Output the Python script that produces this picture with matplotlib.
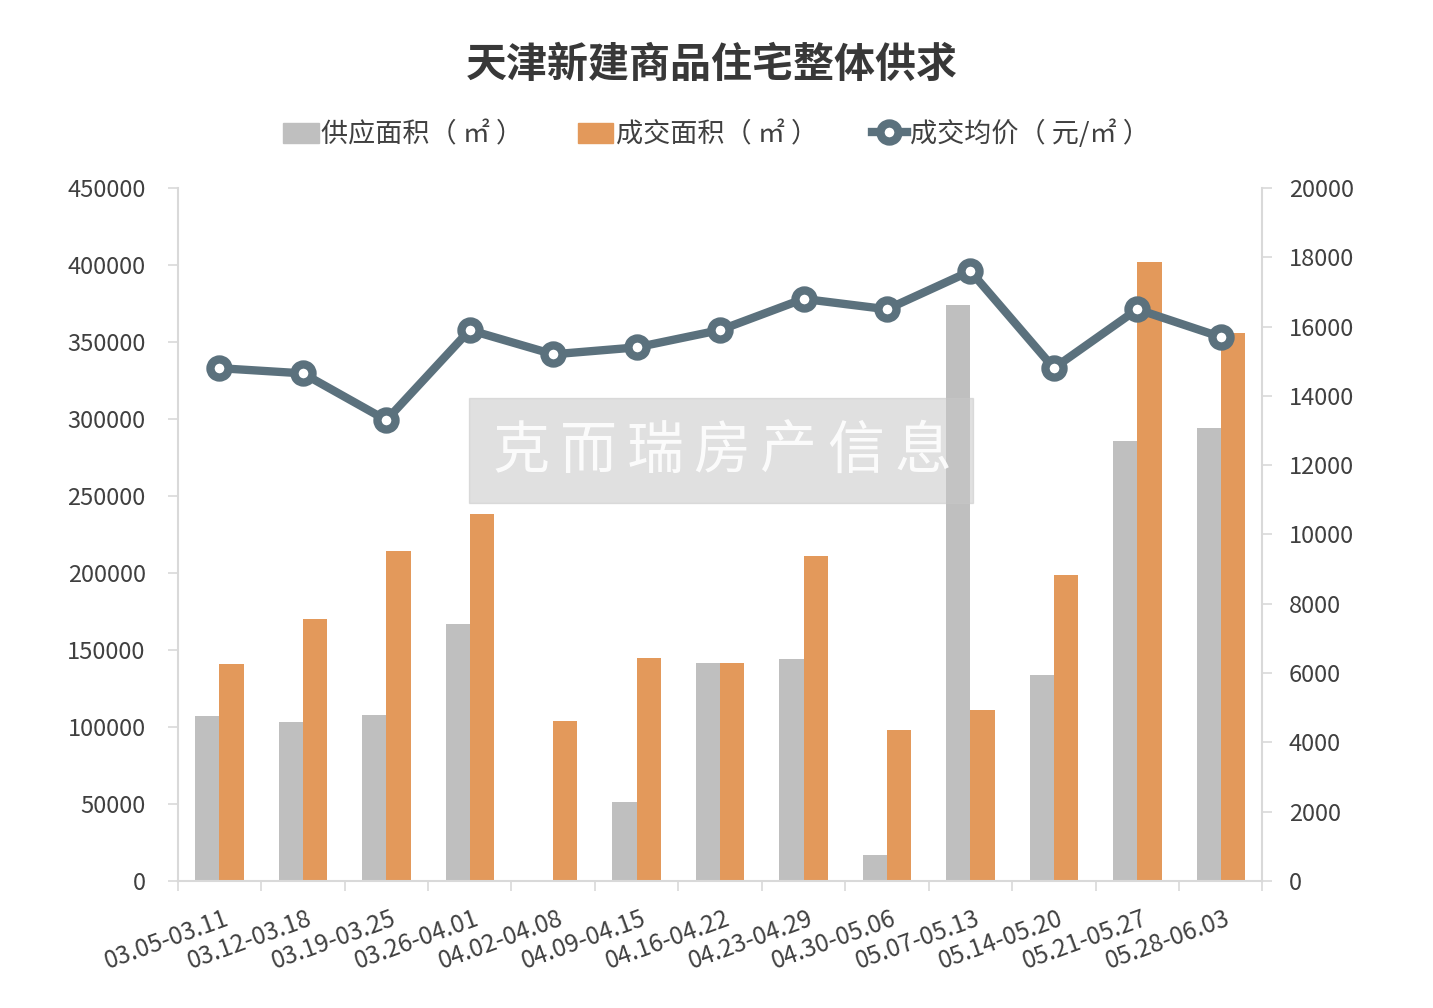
import matplotlib
matplotlib.use("Agg")
import matplotlib.pyplot as plt
from matplotlib.lines import Line2D
from matplotlib.patches import Patch, Rectangle
from matplotlib.transforms import ScaledTranslation
import numpy as np

plt.rcParams['font.family'] = ['Noto Sans CJK SC', 'DejaVu Sans']

# data
weeks = ['03.05-03.11', '03.12-03.18', '03.19-03.25', '03.26-04.01', '04.02-04.08',
         '04.09-04.15', '04.16-04.22', '04.23-04.29', '04.30-05.06', '05.07-05.13',
         '05.14-05.20', '05.21-05.27', '05.28-06.03']
supply = [107000, 103000, 108000, 167000, 0, 51000, 141500, 144000, 17000, 374000,
          134000, 286000, 294000]
deal = [141000, 170000, 214000, 238000, 104000, 145000, 141500, 211000, 98000, 111000,
        199000, 402000, 356000]
price = [14800, 14650, 13300, 15900, 15200, 15400, 15900, 16800, 16500, 17600,
         14800, 16500, 15700]

grey = '#bfbfbf'
orange = '#e3995b'
slate = '#5b717d'
txt = '#404040'

fig = plt.figure(figsize=(14.33, 10.08), dpi=100)
ax = fig.add_axes([0.124, 0.126, 0.757, 0.6875])
ax2 = ax.twinx()

x = np.arange(len(weeks))
w = 0.29
ax.bar(x - w / 2, supply, w, color=grey, zorder=2)
ax.bar(x + w / 2, deal, w, color=orange, zorder=2)
ax2.plot(x, price, color=slate, lw=6, marker='o', ms=13, mew=6,
         mfc='white', mec=slate, zorder=3)

ax.set_xlim(-0.5, len(weeks) - 0.5)
ax.set_ylim(0, 450000)
ax.set_yticks(np.arange(0, 450001, 50000))
ax2.set_ylim(0, 20000)
ax2.set_yticks(np.arange(0, 20001, 2000))

for a in (ax, ax2):
    for s in a.spines.values():
        s.set_visible(False)
ax.spines['left'].set_visible(True)
ax.spines['bottom'].set_visible(True)
ax2.spines['right'].set_visible(True)
for s in (ax.spines['left'], ax.spines['bottom'], ax2.spines['right']):
    s.set_color('#d9d9d9')
    s.set_linewidth(1.5)

ax.tick_params(axis='y', length=7, width=1.2, color='#d9d9d9', labelsize=17,
               labelcolor=txt, pad=16)
ax2.tick_params(axis='y', length=7, width=1.2, color='#d9d9d9', labelsize=17,
                labelcolor=txt, pad=12)
ax.set_xticks(np.arange(-0.5, len(weeks) + 0.5, 1), minor=False)
ax.set_xticklabels([])
ax.tick_params(axis='x', length=7, width=1.2, color='#d9d9d9')
ax.set_xticks(x, minor=True)
ax.set_xticklabels(weeks, minor=True, rotation=20, ha='right', rotation_mode='anchor',
                   fontsize=17.5, color=txt)
ax.tick_params(axis='x', which='minor', length=0, pad=18)
for lab in ax.get_xticklabels(minor=True):
    lab.set_transform(lab.get_transform() + ScaledTranslation(0.04, 0, fig.dpi_scale_trans))

fig.text(0.497, 0.936, '天津新建商品住宅整体供求', ha='center', va='center',
         fontsize=29.5, fontweight='heavy', color='#383838')

handles = [Patch(color=grey), Patch(color=orange),
           Line2D([], [], color=slate, lw=6, marker='o', ms=13, mew=6,
                  mfc='white', mec=slate)]
labels = ['供应面积（ ㎡ ）', '成交面积（ ㎡ ）', '成交均价（ 元/㎡ ）']
fig.legend(handles, labels, loc='center', bbox_to_anchor=(0.5, 0.867), ncol=3,
           frameon=False, fontsize=19.5, labelcolor=txt, handlelength=1.3,
           handleheight=0.8, handletextpad=0.1, columnspacing=2.0)

# watermark
fig.patches.append(Rectangle((469 / 1433, 1 - 503 / 1008), 504 / 1433, 105 / 1008,
                             transform=fig.transFigure, color='#c8c8c8', alpha=0.55,
                             zorder=5))
for i, ch in enumerate('克而瑞房产信息'):
    fig.text((521 + i * 67) / 1433, 1 - 452 / 1008, ch, ha='center', va='center',
             fontsize=41, fontweight='light', color='white', alpha=0.9, zorder=6)

fig.savefig('out.png', dpi=100, facecolor='white')
